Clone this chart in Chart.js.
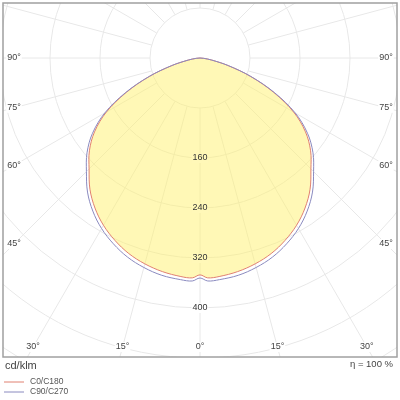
<!DOCTYPE html>
<html>
<head>
<meta charset="utf-8">
<script src="https://cdn.jsdelivr.net/npm/chart.js@4.4.1/dist/chart.umd.min.js"></script>
<style>
  html, body { margin: 0; padding: 0; background: #fff; }
  #wrap { width: 400px; height: 400px; }
</style>
</head>
<body>
<div id="wrap"><canvas id="polar" width="400" height="400"></canvas></div>
<script>
// Photometric data, cd/klm per angle from nadir (symmetric halves)
const angles   = [0, 2, 5, 10, 15, 20, 25, 30, 35, 40, 45, 50, 55, 60, 65, 70, 75, 80, 85, 90];
const c0c180   = [347, 352, 351, 347, 341, 333, 322, 309, 293, 274, 251, 231, 206, 173, 130, 86, 46, 19, 6, 0];
const c90c270  = [352, 357, 356, 353, 347, 339, 328, 315, 299, 280, 257, 236, 210, 176, 132, 87, 47, 19, 6, 0];

// Grid / tick labels
const rings       = [80, 160, 240, 320, 400, 480, 560, 640];
const ringLabels  = [160, 240, 320, 400];
const angleTicks  = [0, 15, 30, 45, 60, 75, 90];
const seriesNames = ['C0/C180', 'C90/C270'];
const unitText    = 'cd/klm';
const effText     = 'η = 100 %';

const FONT = "'Liberation Sans', Arial, sans-serif";
const C0_COLOR = '#e08070';
const C90_COLOR = '#8a8abf';

// polar (angle from nadir, intensity) -> cartesian points, left half then right half
function toPoints(vals) {
  const pts = [];
  for (let i = angles.length - 1; i >= 0; i--) {
    const a = angles[i] * Math.PI / 180;
    pts.push({ x: -vals[i] * Math.sin(a), y: -vals[i] * Math.cos(a) });
  }
  for (let i = 1; i < angles.length; i++) {
    const a = angles[i] * Math.PI / 180;
    pts.push({ x: vals[i] * Math.sin(a), y: -vals[i] * Math.cos(a) });
  }
  return pts;
}

function center(chart) {
  const sx = chart.scales.x, sy = chart.scales.y;
  return { cx: sx.getPixelForValue(0), cy: sy.getPixelForValue(0), k: sx.getPixelForValue(1) - sx.getPixelForValue(0) };
}

const polarGrid = {
  id: 'polarGrid',
  beforeDatasetsDraw(chart) {
    const { ctx, chartArea: a } = chart;
    const { cx, cy, k } = center(chart);
    ctx.save();
    ctx.beginPath();
    ctx.rect(a.left, a.top, a.right - a.left, a.bottom - a.top);
    ctx.clip();
    ctx.strokeStyle = '#e8e8e8';
    ctx.lineWidth = 1;
    rings.forEach(v => {
      ctx.beginPath();
      ctx.arc(cx, cy, v * k, 0, Math.PI * 2);
      ctx.stroke();
    });
    for (let d = 0; d < 360; d += 15) {
      const t = d * Math.PI / 180;
      const r0 = rings[0] * k, r1 = 1000;
      ctx.beginPath();
      ctx.moveTo(cx + Math.sin(t) * r0, cy + Math.cos(t) * r0);
      ctx.lineTo(cx + Math.sin(t) * r1, cy + Math.cos(t) * r1);
      ctx.stroke();
    }
    ctx.restore();
  },
  afterDatasetsDraw(chart) {
    const { ctx, chartArea: a } = chart;
    const { cx, cy, k } = center(chart);
    ctx.save();
    ctx.font = '9px ' + FONT;
    ctx.textAlign = 'center';
    ctx.textBaseline = 'middle';
    // ring value labels along nadir
    ringLabels.forEach(v => {
      const y = cy + v * k;
      const w = ctx.measureText(String(v)).width;
      ctx.fillStyle = v > c0c180[1] ? '#ffffff' : 'rgb(255,248,184)';
      ctx.fillRect(cx - w / 2 - 1, y - 5, w + 2, 10);
      ctx.fillStyle = '#333';
      ctx.fillText(String(v), cx, y);
    });
    // angle labels near frame edge
    const insetL = a.left + 11, insetR = a.right - 11, insetB = a.bottom - 10;
    angleTicks.forEach(d => {
      const t = d * Math.PI / 180;
      [-1, 1].forEach(side => {
        if (d === 0 && side === 1) return;
        const s = Math.sin(t), c = Math.cos(t);
        const tSide = s > 1e-6 ? (side < 0 ? cx - insetL : insetR - cx) / s : Infinity;
        const tBot = c > 1e-6 ? (insetB - cy) / c : Infinity;
        const r = Math.min(tSide, tBot);
        const x = cx + side * s * r, y = cy + c * r;
        const txt = d + '°';
        const w = ctx.measureText(txt).width;
        ctx.fillStyle = '#fff';
        ctx.fillRect(x - w / 2 - 1, y - 5, w + 2, 10);
        ctx.fillStyle = '#444';
        ctx.fillText(txt, x, y);
      });
    });
    ctx.restore();
  },
  afterDraw(chart) {
    const { ctx, chartArea: a } = chart;
    ctx.save();
    ctx.strokeStyle = '#a0a0a0';
    ctx.lineWidth = 1.5;
    ctx.strokeRect(a.left, a.top, a.right - a.left, a.bottom - a.top);
    ctx.fillStyle = '#444';
    ctx.textBaseline = 'middle';
    ctx.font = '11px ' + FONT;
    ctx.textAlign = 'left';
    ctx.fillText(unitText, a.left + 2, a.bottom + 9);
    ctx.font = '9.5px ' + FONT;
    ctx.textAlign = 'right';
    ctx.fillText(effText, a.right - 4, a.bottom + 7);
    // legend
    const colors = [C0_COLOR, C90_COLOR];
    ctx.font = '8.5px ' + FONT;
    ctx.textAlign = 'left';
    seriesNames.forEach((n, i) => {
      const y = a.bottom + 25 + i * 10;
      ctx.strokeStyle = colors[i];
      ctx.lineWidth = 1;
      ctx.beginPath();
      ctx.moveTo(a.left + 1, y);
      ctx.lineTo(a.left + 21, y);
      ctx.stroke();
      ctx.fillStyle = '#555';
      ctx.fillText(n, a.left + 27, y);
    });
    ctx.restore();
  }
};

new Chart(document.getElementById('polar'), {
  type: 'scatter',
  data: {
    datasets: [
      {
        label: seriesNames[1],
        data: toPoints(c90c270),
        showLine: true,
        tension: 0.35,
        borderColor: C90_COLOR,
        borderWidth: 1,
        pointRadius: 0,
        fill: false,
      },
      {
        label: seriesNames[0],
        data: toPoints(c0c180),
        showLine: true,
        tension: 0.35,
        borderColor: C0_COLOR,
        borderWidth: 1,
        pointRadius: 0,
        backgroundColor: 'rgba(255,242,110,0.5)',
        fill: 'shape',
      },
    ],
  },
  options: {
    responsive: false,
    animation: false,
    layout: { padding: { left: 3, right: 3, top: 3, bottom: 43 } },
    scales: {
      x: { type: 'linear', min: -315.2, max: 315.2, display: false },
      y: { type: 'linear', min: -478.4, max: 88, display: false },
    },
    plugins: { legend: { display: false }, tooltip: { enabled: false } },
  },
  plugins: [polarGrid],
});
</script>
</body>
</html>
